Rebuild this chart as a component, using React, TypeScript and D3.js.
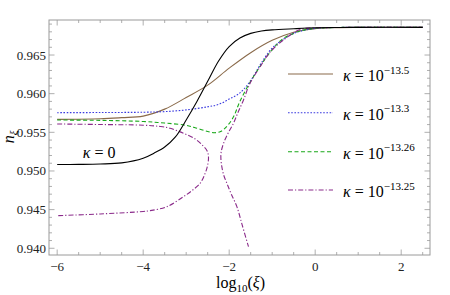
import React from "react";
import * as d3 from "d3";

// ---- data ----
const blackX = [-6, -5.5, -5, -4.5, -4, -3.75, -3.5, -3.25, -3, -2.75, -2.5, -2.25, -2, -1.75, -1.5, -1.25, -1, -0.5, 0, 0.5, 1, 2.5];
const blackY = [0.95083, 0.95085, 0.9509, 0.95105, 0.95165, 0.9523, 0.9531, 0.9544, 0.9566, 0.959, 0.9616, 0.9642, 0.9661, 0.9672, 0.9678, 0.9681, 0.96825, 0.9684, 0.96852, 0.96856, 0.96858, 0.96858];

const brownX = [-6, -5, -4.5, -4, -3.5, -3, -2.5, -2, -1.5, -1, -0.5, 0, 0.5, 1, 2.5];
const brownY = [0.95667, 0.95675, 0.9569, 0.9571, 0.958, 0.9595, 0.9611, 0.9633, 0.9653, 0.9669, 0.96795, 0.96842, 0.96855, 0.96858, 0.96858];

const blueX = [-6, -5, -4, -3.5, -3, -2.5, -2.25, -2, -1.75, -1.5, -1.25, -1, -0.75, -0.5, -0.25, 0, 0.5, 1, 2.5];
const blueY = [0.95754, 0.95756, 0.9576, 0.95768, 0.9579, 0.9583, 0.9586, 0.9593, 0.9601, 0.9617, 0.964, 0.9659, 0.967, 0.9678, 0.9682, 0.96845, 0.96856, 0.96858, 0.96858];

const greenX = [-6, -5, -4, -3.5, -3, -2.75, -2.5, -2.35, -2.2, -2.05, -1.9, -1.75, -1.5, -1.25, -1, -0.75, -0.5, -0.25, 0, 0.5, 1, 2.5];
const greenY = [0.95659, 0.95655, 0.9564, 0.9562, 0.9559, 0.95553, 0.9551, 0.95495, 0.9551, 0.9558, 0.957, 0.959, 0.9616, 0.9638, 0.9657, 0.9671, 0.9678, 0.96825, 0.96845, 0.96856, 0.96858, 0.96858];

// purple: left branch (upper -> turning point -> lower)
const purpleLeftX = [-6, -5, -4, -3.605, -3.372, -3.063, -2.791, -2.605, -2.512, -2.481, -2.5, -2.558, -2.674, -2.86, -3.063, -3.449, -3.837, -4, -5, -6];
const purpleLeftY = [0.95608, 0.95601, 0.95592, 0.95575, 0.95552, 0.95487, 0.95414, 0.95323, 0.95259, 0.95181, 0.95078, 0.9497, 0.94841, 0.94748, 0.94668, 0.94538, 0.94487, 0.94476, 0.94444, 0.94422];
// purple: right branch (from top right, down to its end)
const purpleRightX = [2.5, 1, 0.5, 0, -0.349, -0.737, -1.047, -1.279, -1.512, -1.667, -1.791, -1.9, -2.023, -2.128, -2.186, -2.193, -2.174, -2.128, -2.047, -1.953, -1.821, -1.698, -1.551];
const purpleRightY = [0.96858, 0.96858, 0.96856, 0.9685, 0.9683, 0.96694, 0.96539, 0.96349, 0.96138, 0.95918, 0.95763, 0.95617, 0.95491, 0.95362, 0.95246, 0.95168, 0.95065, 0.94948, 0.94832, 0.94703, 0.94538, 0.94302, 0.94021];

const xTicks = [-6, -4, -2, 0, 2];
const yTicks = [0.94, 0.945, 0.95, 0.955, 0.96, 0.965];
const legendLabels = ["−13.5", "−13.3", "−13.26", "−13.25"];

const SERIF = '"Liberation Serif", "Times New Roman", Times, "DejaVu Serif", "Noto Serif", Tinos, FreeSerif, serif';

export default function App() {
  const W = 450, H = 295;
  const L = 49, R = 430, T = 20, B = 255;
  const x = d3.scaleLinear().domain([-6.19, 2.67]).range([L, R]);
  const y = d3.scaleLinear().domain([0.93913, 0.96953]).range([B, T]);

  const mk = (xs: number[], ys: number[]) =>
    d3.line<number>().x((_, i) => x(xs[i])).y((_, i) => y(ys[i])).curve(d3.curveCatmullRom.alpha(0.5))(xs) || "";

  const xMinor = d3.range(-6, 2.51, 0.5);
  const yMinor = d3.range(0, 30).map((i) => 0.940 + i * 0.001).filter((v) => v <= 0.9695);
  const frame = "#9a9a9a";

  const series = [
    { d: mk(brownX, brownY), color: "#8a6a4a", dash: "" },
    { d: mk(blueX, blueY), color: "#3a3adf", dash: "1.6,1.6" },
    { d: mk(greenX, greenY), color: "#1aa81a", dash: "4,2.5" },
    { d: mk(purpleLeftX, purpleLeftY), color: "#8a2a8a", dash: "5,2,1.2,2" },
    { d: mk(purpleRightX, purpleRightY), color: "#8a2a8a", dash: "5,2,1.2,2" },
    { d: mk(blackX, blackY), color: "#000000", dash: "" },
  ];
  const legendY = [74, 112.7, 151.7, 190];
  const legendSeries = [0, 1, 2, 3];

  return (
    <svg width={W} height={H} style={{ display: "block", position: "absolute", left: 0, top: 0 }}>
      <style>{`text { font-family: ${SERIF}; }`}</style>
      <rect width={W} height={H} fill="#fff" />
      <defs>
        <clipPath id="plot">
          <rect x={L} y={T} width={R - L} height={B - T} />
        </clipPath>
      </defs>
      {/* ticks */}
      {xMinor.map((v, i) => {
        const major = Math.abs(v - Math.round(v)) < 1e-6 && Math.round(v) % 2 === 0;
        const len = major ? 5.5 : 3;
        return (
          <g key={"xt" + i} stroke={frame} strokeWidth={0.8}>
            <line x1={x(v)} x2={x(v)} y1={B} y2={B - len} />
            <line x1={x(v)} x2={x(v)} y1={T} y2={T + len} />
          </g>
        );
      })}
      {yMinor.map((v, i) => {
        const major = Math.abs(v * 200 - Math.round(v * 200)) < 1e-6;
        const len = major ? 5.5 : 3;
        return (
          <g key={"yt" + i} stroke={frame} strokeWidth={0.8}>
            <line x1={L} x2={L + len} y1={y(v)} y2={y(v)} />
            <line x1={R} x2={R - len} y1={y(v)} y2={y(v)} />
          </g>
        );
      })}
      <rect x={L} y={T} width={R - L} height={B - T} fill="none" stroke={frame} strokeWidth={1} />
      {/* tick labels */}
      {xTicks.map((v) => (
        <text key={"xl" + v} x={x(v)} y={271} fontSize={13} textAnchor="middle" fill="#222">
          {v < 0 ? "−" + Math.abs(v) : String(v)}
        </text>
      ))}
      {yTicks.map((v) => (
        <text key={"yl" + v} x={46} y={y(v) + 4.5} fontSize={13} textAnchor="end" fill="#222">
          {v.toFixed(3)}
        </text>
      ))}
      {/* curves */}
      <g clipPath="url(#plot)" fill="none">
        {series.map((s, i) => (
          <path key={i} d={s.d} stroke={s.color} strokeWidth={1.1} strokeDasharray={s.dash || undefined} />
        ))}
      </g>
      {/* kappa = 0 label */}
      <text x={82.7} y={158.3} fontSize={16} fill="#000">
        <tspan fontStyle="italic">κ</tspan> = 0
      </text>
      {/* legend */}
      {legendSeries.map((si, k) => (
        <g key={"lg" + k}>
          <line x1={288} x2={333} y1={legendY[k]} y2={legendY[k]} stroke={series[si].color} strokeWidth={1.1} strokeDasharray={series[si].dash || undefined} />
          <text x={343} y={legendY[k] + 7} fontSize={16} fill="#000">
            <tspan fontStyle="italic">κ</tspan> = 10
            <tspan fontSize={11} dy={-7.5}>{legendLabels[k]}</tspan>
          </text>
        </g>
      ))}
      {/* axis labels */}
      <text x={216} y={288} fontSize={16} fill="#000">
        log<tspan fontSize={11} dy={3.5}>10</tspan><tspan dy={-3.5}>(</tspan><tspan fontStyle="italic">ξ</tspan>)
      </text>
      <text transform="translate(14,137) rotate(-90)" fontSize={16} textAnchor="middle" fill="#000">
        <tspan fontStyle="italic">n</tspan><tspan fontSize={11} dy={3} fontStyle="italic">ξ</tspan>
      </text>
    </svg>
  );
}
